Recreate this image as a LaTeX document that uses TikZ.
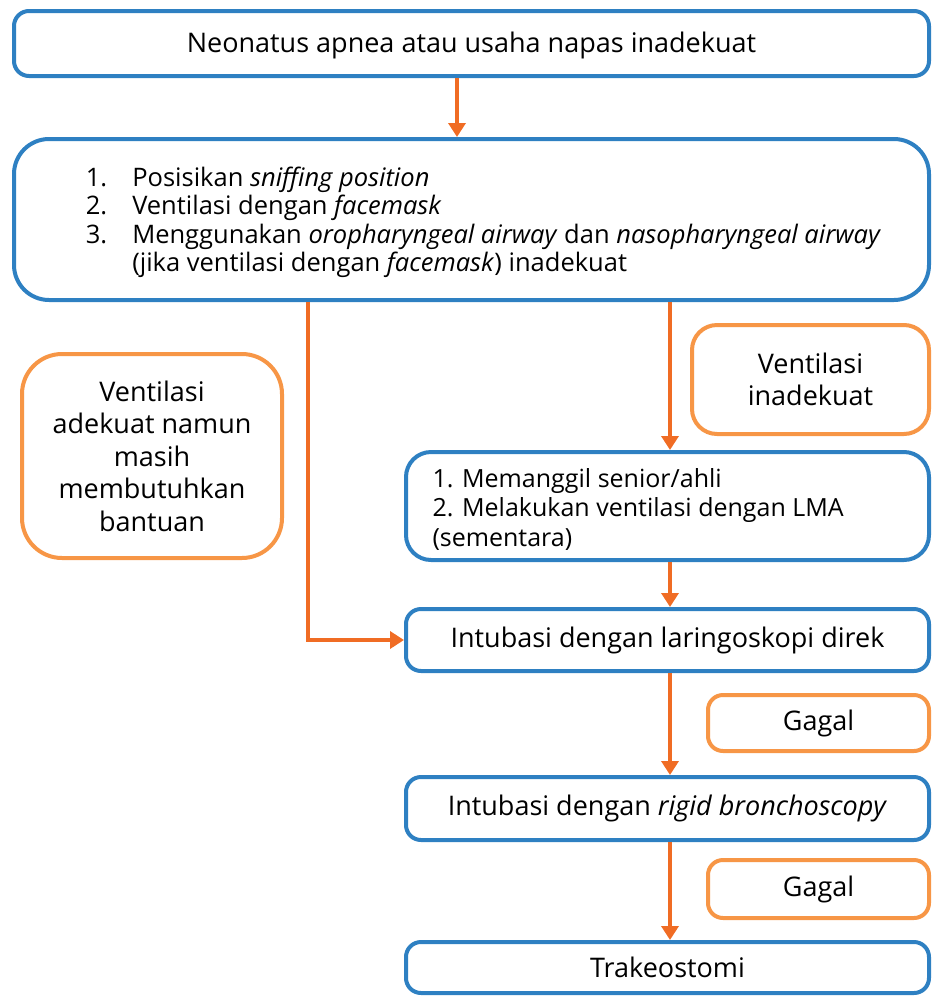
\documentclass[tikz,border=0pt]{standalone}
\usepackage{fontspec}
\setmainfont{Open Sans}
\usetikzlibrary{arrows.meta}
\definecolor{bblue}{RGB}{46,128,194}
\definecolor{oarrow}{RGB}{240,108,36}
\definecolor{obox}{RGB}{247,150,70}
\newcommand{\fsz}{\fontsize{27}{29.5}\selectfont}
\newcommand{\fsl}{\fontsize{25.5}{28.5}\selectfont}
\newcommand{\fsm}{\fontsize{25}{29.5}\selectfont}
\newcommand{\fso}{\fontsize{27}{32.5}\selectfont}
\begin{document}
\begin{tikzpicture}[x=1pt,y=-1pt,
  bbox/.style={draw=bblue,line width=4pt,rounded corners=15pt,fill=white,inner sep=0pt,font=\fsz},
  obx/.style={draw=obox,line width=4pt,rounded corners=25pt,fill=white,inner sep=0pt,font=\fso,align=center},
  arr/.style={draw=oarrow,line width=4pt,-{Triangle[width=17pt,length=14pt]}}]
\useasboundingbox (0,0) rectangle (932,997);
\node[bbox,font=\fsz,minimum width=915pt,minimum height=65pt] (b1) at (471.5,43.5) {\raisebox{-1.5pt}[\height][\depth]{Neonatus apnea atau usaha napas inadekuat}};
\node[bbox,font=\fsl,rounded corners=35pt,minimum width=915pt,minimum height=161pt] (b2) at (471.5,219.5)
 {\hspace*{24pt}\raisebox{-4pt}[\height][\depth]{\begin{tabular}{@{}l@{\hspace{25pt}}l@{}}
 1. & Posisikan \textit{sniffing position}\\
 2. & Ventilasi dengan \textit{facemask}\\
 3. & Menggunakan \textit{oropharyngeal airway} dan \textit{nasopharyngeal airway}\\
    & (jika ventilasi dengan \textit{facemask}) inadekuat
 \end{tabular}}};
\node[obx,rounded corners=40pt,minimum width=260pt,minimum height=204pt] (ol) at (152,456)
 {Ventilasi\\adekuat namun\\masih\\membutuhkan\\bantuan};
\node[obx,minimum width=237pt,minimum height=109pt] (or) at (810.5,379.5) {Ventilasi\\inadekuat};
\node[bbox,font=\fsm,rounded corners=25pt,minimum width=523pt,minimum height=108pt] (b3) at (667.5,506)
 {\raisebox{-3pt}[\height][\depth]{\parbox{470pt}{1. Memanggil senior/ahli\\2. Melakukan ventilasi dengan LMA\\(sementara)}}};
\node[bbox,minimum width=523pt,minimum height=62pt] (b4) at (667.5,640) {Intubasi dengan laringoskopi direk};
\node[obx,rounded corners=15pt,minimum width=221pt,minimum height=56pt] (g1) at (818.5,723) {Gagal};
\node[bbox,minimum width=523pt,minimum height=63pt] (b5) at (667.5,808.5) {Intubasi dengan \textit{rigid bronchoscopy}};
\node[obx,rounded corners=15pt,minimum width=221pt,minimum height=58pt] (g2) at (818.5,889) {Gagal};
\node[bbox,minimum width=523pt,minimum height=51pt] (b6) at (667.5,967.5) {Trakeostomi};
\coordinate (xa) at (457,0);
\coordinate (xl) at (308,0);
\coordinate (xr) at (670,0);
\draw[arr] (b1.south -| xa) -- (b2.north -| xa);
\draw[arr] (b2.south -| xl) |- (b4.west);
\draw[arr] (b2.south -| xr) -- (b3.north -| xr);
\draw[arr] (b3.south -| xr) -- (b4.north -| xr);
\draw[arr] (b4.south -| xr) -- (b5.north -| xr);
\draw[arr] (b5.south -| xr) -- (b6.north -| xr);
\end{tikzpicture}
\end{document}
